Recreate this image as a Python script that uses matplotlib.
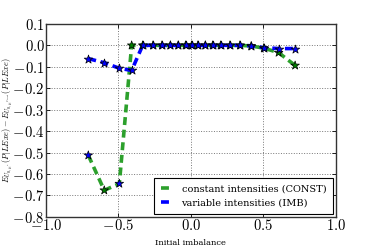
import matplotlib
matplotlib.use("Agg")
import matplotlib.pyplot as plt
from matplotlib.ticker import FuncFormatter, MultipleLocator

plt.rcParams['mathtext.fontset'] = 'cm'
plt.rcParams['font.family'] = ['DejaVu Serif']

imbalance = [-0.708, -0.598, -0.494, -0.409, -0.333, -0.262, -0.2, -0.142, -0.088, -0.037,
             0.005, 0.048, 0.099, 0.15, 0.205, 0.269, 0.338, 0.416, 0.503, 0.605, 0.719]
const_vals = [-0.513, -0.676, -0.645, 0.0, 0.0, 0.0, 0.0, 0.0, 0.0, 0.0,
              0.0, 0.0, 0.0, 0.0, 0.0, 0.0, 0.0, -0.003, -0.013, -0.034, -0.094]
imb_vals = [-0.062, -0.081, -0.107, -0.117, 0.0, 0.0, 0.0, 0.0, 0.0, 0.0,
            0.0, 0.0, 0.0, 0.0, 0.0, 0.0, 0.0, -0.002, -0.011, -0.015, -0.015]
const_marker_colors = ['blue', 'green', 'blue'] + ['green'] * 18

fig = plt.figure(figsize=(3.74, 2.49), dpi=100)
ax = fig.add_axes([0.123, 0.129, 0.775, 0.775])

ax.plot(imbalance, const_vals, '--', color='#2ca02c', lw=2.6, dashes=(2.2, 1.3),
        label='constant intensities (CONST)', zorder=2)
ax.scatter(imbalance, const_vals, marker='*', s=42, c=const_marker_colors,
           edgecolors='black', linewidths=0.5, zorder=4)
ax.plot(imbalance, imb_vals, '--', color='blue', lw=2.6, dashes=(2.2, 1.3),
        label='variable intensities (IMB)', zorder=3)
ax.scatter(imbalance, imb_vals, marker='*', s=42, c='blue',
           edgecolors='black', linewidths=0.5, zorder=5)

ax.set_xlim(-1.0, 1.0)
ax.set_ylim(-0.8, 0.1)
ax.xaxis.set_major_locator(MultipleLocator(0.5))
ax.yaxis.set_major_locator(MultipleLocator(0.1))

def fmt(v, pos):
    s = f"{abs(v):.1f}"
    if v < -1e-9:
        return r"$\!-\!" + s + "$"
    return "$" + s + "$"

ax.xaxis.set_major_formatter(FuncFormatter(fmt))
ax.yaxis.set_major_formatter(FuncFormatter(fmt))
ax.tick_params(labelsize=10.5, direction='in', length=3, width=0.6, top=True, right=True, pad=1)
ax.grid(True, linestyle=':', color='#777777', lw=0.7)
for sp in ax.spines.values():
    sp.set_color('#333333')
    sp.set_linewidth(1.0)

ax.set_xlabel('Initial imbalance', fontsize=6, labelpad=4)
ax.set_ylabel(r'$E_{U_{0,\mu^*}}(P|LExe) - E_{U_{0,\mu^{Const}}}(P|LExe)$', fontsize=6)
ax.yaxis.set_label_coords(-0.108, 0.5)

leg = ax.legend(loc='lower right', fontsize=7, fancybox=False, framealpha=1,
                edgecolor='black', handlelength=1.2, borderaxespad=0.3,
                borderpad=0.7, labelspacing=0.45, handletextpad=0.9)
leg.get_frame().set_linewidth(0.8)

fig.savefig('out.png', dpi=100)
